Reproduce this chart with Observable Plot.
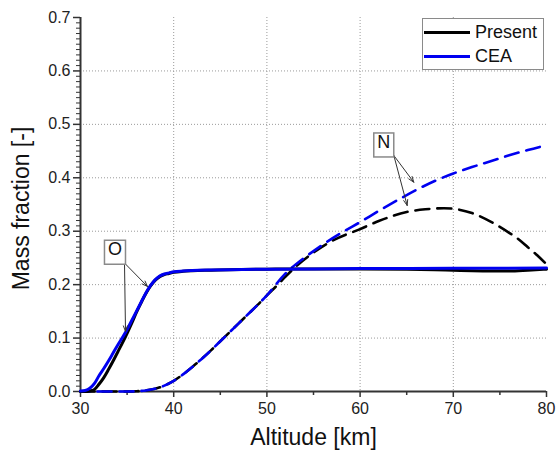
<!DOCTYPE html>
<html>
<head>
<meta charset="utf-8">
<script src="https://cdn.jsdelivr.net/npm/d3@7"></script>
<script src="https://cdn.jsdelivr.net/npm/@observablehq/plot@0.6"></script>
<style>
  body { margin: 0; background: #fff; font-family: "Liberation Sans", Arial, sans-serif; }
  #wrap { position: relative; width: 558px; height: 456px; }
  #legend { position: absolute; left: 422px; top: 18px; width: 120px; height: 50px;
            border: 1.5px solid #8a8a8a; background: #fff; font-size: 18px; color: #111; }
  #legend .row { position: absolute; left: 1px; display: flex; align-items: center; }
  #legend .sw { width: 46px; height: 3px; margin-right: 5px; }
</style>
</head>
<body>
<div id="wrap"><div id="legend"></div></div>
<script>
// ---- Data ----
const seriesNames = ["Present", "CEA"];
const seriesColors = ["#000000", "#0000f0"];

// Oxygen (solid lines)
const altO_present = [30, 30.5, 31, 31.5, 32, 32.5, 33, 33.5, 34, 34.5, 35, 35.5, 36, 36.5, 37, 37.5, 38, 38.5, 39, 39.5, 40, 41, 42, 44, 46, 50, 55, 60, 65, 68, 70, 72, 74, 76, 78, 80];
const O_present    = [0, 0, 0.001, 0.004, 0.014, 0.026, 0.041, 0.057, 0.074, 0.091, 0.109, 0.128, 0.148, 0.166, 0.183, 0.197, 0.208, 0.215, 0.219, 0.221, 0.223, 0.225, 0.226, 0.227, 0.228, 0.229, 0.2295, 0.2295, 0.229, 0.228, 0.227, 0.226, 0.2255, 0.2255, 0.227, 0.229];
const altO_CEA = [30, 30.5, 31, 31.5, 32, 32.5, 33, 33.5, 34, 34.5, 35, 35.5, 36, 36.5, 37, 37.5, 38, 38.5, 39, 39.5, 40, 41, 42, 44, 46, 50, 55, 60, 70, 80];
const O_CEA    = [0.001, 0.002, 0.006, 0.015, 0.03, 0.043, 0.057, 0.072, 0.087, 0.101, 0.116, 0.133, 0.15, 0.167, 0.184, 0.198, 0.209, 0.216, 0.22, 0.222, 0.224, 0.2255, 0.2265, 0.2275, 0.228, 0.229, 0.2295, 0.23, 0.2305, 0.231];

// Nitrogen (dashed lines)
const altN_present = [30, 32, 34, 35, 36, 37, 38, 39, 40, 41, 42, 43, 44, 45, 46, 47, 48, 49, 50, 51, 52, 53, 55, 57, 60, 62, 65, 67, 69, 70, 72, 74, 76, 77, 78, 79, 80];
const N_present    = [0, 0, 0, 0, 0.0005, 0.002, 0.005, 0.011, 0.02, 0.032, 0.046, 0.061, 0.077, 0.094, 0.111, 0.128, 0.145, 0.162, 0.18, 0.197, 0.215, 0.232, 0.26, 0.282, 0.304, 0.319, 0.336, 0.341, 0.343, 0.342, 0.334, 0.318, 0.297, 0.285, 0.27, 0.255, 0.238];
const altN_CEA = [30, 32, 34, 35, 36, 37, 38, 39, 40, 41, 42, 43, 44, 45, 46, 47, 48, 49, 50, 52, 54, 56, 58, 60, 62, 64, 66, 68, 70, 72, 74, 76, 78, 80];
const N_CEA    = [0, 0, 0, 0, 0.0005, 0.002, 0.005, 0.011, 0.02, 0.032, 0.046, 0.061, 0.077, 0.094, 0.111, 0.128, 0.145, 0.162, 0.18, 0.221, 0.25, 0.275, 0.297, 0.317, 0.338, 0.358, 0.377, 0.394, 0.408, 0.42, 0.431, 0.442, 0.452, 0.461];

// Annotations
const annoLabel = ["O", "N"];
const annoX = [33.70, 62.54];
const annoY = [0.2658, 0.4666];
const arrowX1 = [34.72, 34.72, 63.62, 63.62];
const arrowY1 = [0.2405, 0.2405, 0.4417, 0.4417];
const arrowX2 = [37.19, 34.83, 65.76, 65.05];
const arrowY2 = [0.1965, 0.1123, 0.3917, 0.3481];

// Axis ticks
const xMajor = [30, 40, 50, 60, 70, 80];
const xMinor = [35, 45, 55, 65, 75];
const yMajor = [0, 0.1, 0.2, 0.3, 0.4, 0.5, 0.6, 0.7];
const yMinorStep = 0.01;
const xGrid = [40, 50, 60, 70];
const yGrid = [0.1, 0.2, 0.3, 0.4, 0.5, 0.6];

// ---- Build tables ----
const toRows = (xs, ys) => xs.map((x, i) => ({x, y: ys[i]}));
const oPresent = toRows(altO_present, O_present);
const oCEA = toRows(altO_CEA, O_CEA);
const nPresent = toRows(altN_present, N_present);
const nCEA = toRows(altN_CEA, N_CEA);
const annos = annoLabel.map((t, i) => ({t, x: annoX[i], y: annoY[i]}));
const arrows = arrowX1.map((x1, i) => ({x1, y1: arrowY1[i], x2: arrowX2[i], y2: arrowY2[i]}));
const yMinor = d3.range(0, 70.5, 1).filter(v => v % 10 !== 0).map(v => v * yMinorStep);

const axisColor = "#333";

const chart = Plot.plot({
  width: 558,
  height: 456,
  marginLeft: 80,
  marginRight: 12,
  marginTop: 17,
  marginBottom: 65,
  style: {fontFamily: "'Liberation Sans', Arial, sans-serif", fontSize: "16px", color: "#222", background: "#fff"},
  x: {domain: [30, 80]},
  y: {domain: [0, 0.7]},
  marks: [
    Plot.gridX(xGrid, {stroke: "#9a9a9a", strokeOpacity: 1, strokeDasharray: "1,2", strokeWidth: 1}),
    Plot.gridY(yGrid, {stroke: "#9a9a9a", strokeOpacity: 1, strokeDasharray: "1,2", strokeWidth: 1}),
    Plot.axisX({ticks: xMajor, tickSize: 6, tickPadding: 5, label: null, stroke: axisColor, strokeWidth: 1.5, fontSize: 16, fill: "#222"}),
    Plot.axisX({ticks: xMinor, tickSize: 4, tickFormat: () => "", label: null, stroke: axisColor, strokeWidth: 1.5}),
    Plot.axisY({ticks: yMajor, tickSize: 7, tickPadding: 3, tickFormat: ".1f", label: null, stroke: axisColor, strokeWidth: 1.5, fontSize: 16, fill: "#222"}),
    Plot.axisY({ticks: yMinor, tickSize: 4, tickFormat: () => "", label: null, stroke: axisColor, strokeWidth: 1}),
    Plot.ruleX([30], {stroke: axisColor, strokeWidth: 2}),
    Plot.ruleY([0], {stroke: axisColor, strokeWidth: 2}),
    // N dashed
    Plot.line(nPresent, {x: "x", y: "y", stroke: seriesColors[0], strokeWidth: 2.6, strokeDasharray: "14,8", curve: "monotone-x"}),
    Plot.line(nCEA, {x: "x", y: "y", stroke: seriesColors[1], strokeWidth: 2.6, strokeDasharray: "14,8", strokeDashoffset: 5, curve: "monotone-x"}),
    // O solid
    Plot.line(oPresent, {x: "x", y: "y", stroke: seriesColors[0], strokeWidth: 3, curve: "monotone-x"}),
    Plot.line(oCEA, {x: "x", y: "y", stroke: seriesColors[1], strokeWidth: 3, curve: "monotone-x"}),
    // annotations
    Plot.arrow(arrows, {x1: "x1", y1: "y1", x2: "x2", y2: "y2", stroke: "#333", strokeWidth: 1, headLength: 9, headAngle: 40}),
    Plot.text(annos, {x: "x", y: "y", text: "t", fontSize: 18, fill: "#111", className: "anno"}),
    // axis titles
    Plot.text(["Altitude [km]"], {frameAnchor: "bottom", dy: 53, fontSize: 23, fill: "#111"}),
    Plot.text(["Mass fraction [-]"], {frameAnchor: "left", textAnchor: "middle", dx: -59, dy: 4, rotate: -90, fontSize: 23, fill: "#111"})
  ]
});

const wrap = document.getElementById("wrap");
wrap.insertBefore(chart, wrap.firstChild);

// boxes behind annotation letters
d3.select(chart).selectAll("g.anno text").each(function() {
  const b = this.getBBox();
  const r = d3.select(this.parentNode).insert("rect", () => this)
    .attr("x", b.x - 3.5).attr("y", b.y + 1).attr("width", b.width + 7).attr("height", b.height + 4)
    .attr("fill", "#fff").attr("stroke", "#8a8a8a").attr("stroke-width", 1.5);
  const t = this.getAttribute("transform");
  if (t) r.attr("transform", t);
});

// legend
const leg = d3.select("#legend");
seriesNames.forEach((name, i) => {
  const row = leg.append("div").attr("class", "row").style("top", (i === 0 ? 3 : 27) + "px");
  row.append("div").attr("class", "sw").style("background", seriesColors[i]);
  row.append("span").text(name);
});
</script>
</body>
</html>
